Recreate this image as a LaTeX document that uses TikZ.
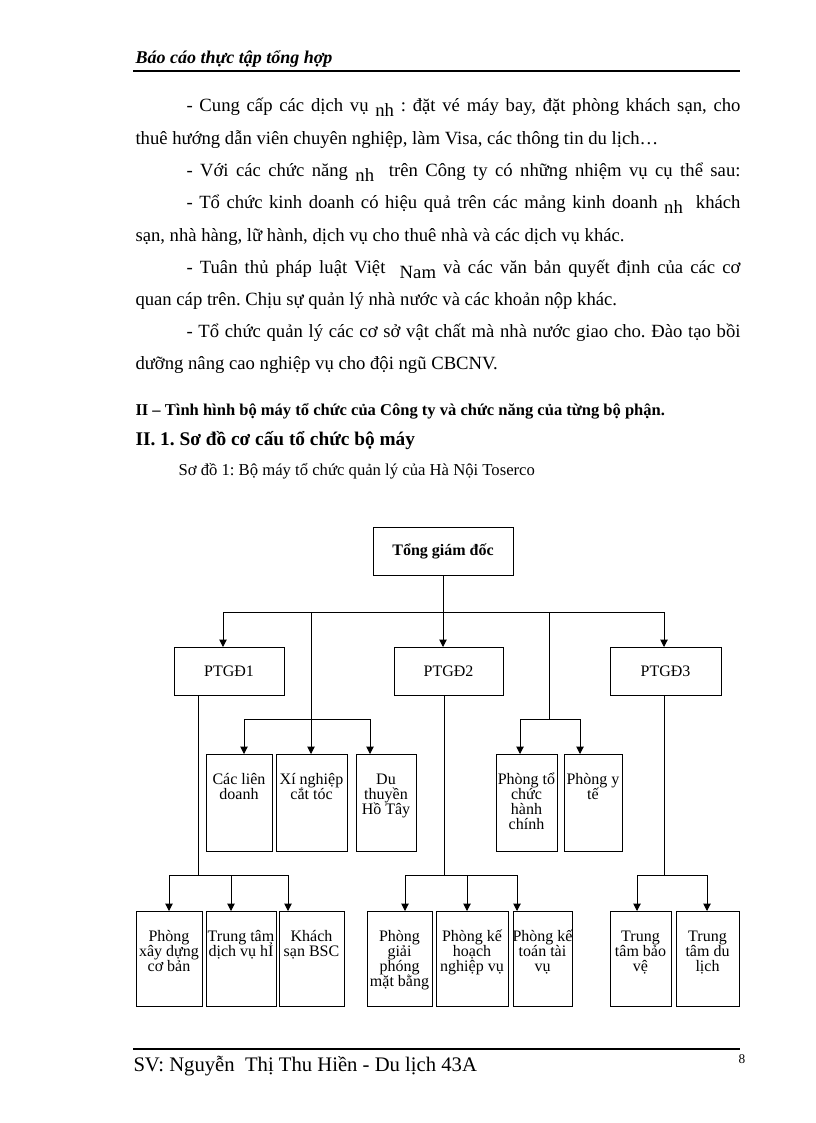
\documentclass[tikz,border=0pt]{standalone}
\usepackage{fontspec}
\setmainfont{Liberation Serif}
\usetikzlibrary{arrows.meta}
\frenchspacing
\newdimen\pxu \pxu=0.75pt
\newcommand\lwr[1]{\raisebox{-3.5pt}{#1}}
\newcommand\bl[1]{\makebox[\linewidth]{#1}}
\newcommand\bxt[3]{\parbox[c][#2\pxu][t]{#1\pxu}{\fontsize{12}{11.25}\selectfont\lineskiplimit=-100pt\centering\rule{0pt}{22.5pt}#3}}
\newcommand\bxc[3]{\parbox[c][#2\pxu][c]{#1\pxu}{\centering #3}}
\tikzset{
  box/.style={draw, line width=0.75pt, inner sep=0pt, outer sep=0pt},
  txt/.style={inner sep=0pt, anchor=base west},
  body/.style={txt, font=\fontsize{14}{16}\selectfont},
  arr/.style={-{Triangle[width=5.5pt,length=5.5pt]}},
}
\begin{document}
\begin{tikzpicture}[x=0.75pt,y=-0.75pt,line width=0.75pt]
\useasboundingbox (0,0) rectangle (816,1123);
\fill[white] (0,0) rectangle (816,1123);
% header
\node[txt,font=\fontsize{13.5}{15}\selectfont\bfseries\itshape] (hd) at (135,64) {Báo cáo thực tập tổng hợp};
\coordinate (hl) at (133,71); \coordinate (hr) at (740,71);
\draw[line width=1.5pt] (hl) -- (hr);
% body
\node[body] (l1) at (186,112) {\hbox to 415.5pt{- Cung cấp các dịch vụ \lwr{nh}\ : đặt vé máy bay, đặt phòng khách sạn, cho}};
\node[body] (l2) at (135,144.5) {thuê hướng dẫn viên chuyên nghiệp, làm Visa, các thông tin du lịch…};
\node[body] (l3) at (186,176.5) {\hbox to 415.5pt{- Với các chức năng \lwr{nh}\ \ trên Công ty có những nhiệm vụ cụ thể sau:}};
\node[body] (l4) at (186,209) {\hbox to 415.5pt{- Tổ chức kinh doanh có hiệu quả trên các mảng kinh doanh \lwr{nh}\ \ khách}};
\node[body] (l5) at (135,241) {sạn, nhà hàng, lữ hành, dịch vụ cho thuê nhà và các dịch vụ khác.};
\node[body] (l6) at (186,273.5) {\hbox to 415.5pt{- Tuân thủ pháp luật Việt\ \ \lwr{Nam} và các văn bản quyết định của các cơ}};
\node[body] (l7) at (135,305.5) {quan cáp trên. Chịu sự quản lý nhà nước và các khoản nộp khác.};
\node[body] (l8) at (186,337.5) {\hbox to 415.5pt{- Tổ chức quản lý các cơ sở vật chất mà nhà nước giao cho. Đào tạo bồi}};
\node[body] (l9) at (135,369.5) {dưỡng nâng cao nghiệp vụ cho đội ngũ CBCNV.};
% section titles
\node[txt,font=\fontsize{12.4}{14}\selectfont\bfseries] (s1) at (135,415) {II – Tình hình bộ máy tổ chức của Công ty và chức năng của từng bộ phận.};
\node[txt,font=\fontsize{14.5}{16}\selectfont\bfseries] (s2) at (135,445) {II. 1. Sơ đồ cơ cấu tổ chức bộ máy};
\node[txt,font=\fontsize{12.5}{14}\selectfont] (cap) at (178,475) {Sơ đồ 1: Bộ máy tổ chức quản lý của Hà Nội Toserco};
% diagram boxes
\node[box] (T) at (443,551) {\bxc{140}{48}{\fontsize{12}{14}\selectfont\bfseries Tổng giám đốc}};
\node[box] (P1) at (229,671) {\bxc{110}{48}{\fontsize{12}{14}\selectfont PTGĐ1}};
\node[box] (P2) at (448.5,671) {\bxc{109}{48}{\fontsize{12}{14}\selectfont PTGĐ2}};
\node[box] (P3) at (665.5,671) {\bxc{111}{48}{\fontsize{12}{14}\selectfont PTGĐ3}};
\node[box] (L1) at (239,802.5) {\bxt{66}{97}{\bl{Các liên}\\\bl{doanh}}};
\node[box] (L2) at (311.5,802.5) {\bxt{71}{97}{\bl{Xí nghiệp}\\\bl{cắt tóc}}};
\node[box] (L3) at (386,802.5) {\bxt{60}{97}{\bl{Du}\\\bl{thuyền}\\\bl{Hồ Tây}}};
\node[box] (M1) at (526.5,802.5) {\bxt{61}{97}{\bl{Phòng tổ}\\\bl{chức}\\\bl{hành}\\\bl{chính}}};
\node[box] (M2) at (593,802.5) {\bxt{58}{97}{\bl{Phòng y}\\\bl{tế}}};
\node[box] (B1) at (169,958.5) {\bxt{66}{95}{\bl{Phòng}\\\bl{xây dựng}\\\bl{cơ bản}}};
\node[box] (B2) at (241,958.5) {\bxt{70}{95}{\bl{Trung tâm}\\\bl{dịch vụ hỈ}}};
\node[box] (B3) at (311.5,958.5) {\bxt{65}{95}{\bl{Khách}\\\bl{sạn BSC}}};
\node[box] (B4) at (399.5,958.5) {\bxt{65}{95}{\bl{Phòng}\\\bl{giải}\\\bl{phóng}\\\bl{mặt bằng}}};
\node[box] (B5) at (472,958.5) {\bxt{72}{95}{\bl{Phòng kế}\\\bl{hoạch}\\\bl{nghiệp vụ}}};
\node[box] (B6) at (542.5,958.5) {\bxt{59}{95}{\bl{Phòng kế}\\\bl{toán tài}\\\bl{vụ}}};
\node[box] (B7) at (640.5,958.5) {\bxt{61}{95}{\bl{Trung}\\\bl{tâm bảo}\\\bl{vệ}}};
\node[box] (B8) at (707.5,958.5) {\bxt{63}{95}{\bl{Trung}\\\bl{tâm du}\\\bl{lịch}}};
% connectors level 1
\coordinate (jL) at (223,612); \coordinate (jR) at (664,612);
\coordinate (jA) at (311,612); \coordinate (jB) at (549,612);
\draw[arr] (T.south) -- (T.south |- P2.north);
\draw (jL) -- (jR);
\draw[arr] (jL) -- (jL |- P1.north);
\draw[arr] (jR) -- (jR |- P3.north);
% middle groups
\coordinate (a1) at (244,719); \coordinate (a3) at (370,719);
\draw[arr] (jA) -- (jA |- L2.north);
\draw (a1) -- (a3);
\draw[arr] (a1) -- (a1 |- L1.north);
\draw[arr] (a3) -- (a3 |- L3.north);
\coordinate (bm) at (549,719); \coordinate (b1) at (520,719); \coordinate (b2) at (580,719);
\draw (jB) -- (bm);
\draw (b1) -- (b2);
\draw[arr] (b1) -- (b1 |- M1.north);
\draw[arr] (b2) -- (b2 |- M2.north);
% bottom groups
\coordinate (c0) at (198,875); \coordinate (c1) at (169,875); \coordinate (c2) at (231,875); \coordinate (c3) at (288,875);
\draw (c0 |- P1.south) -- (c0);
\draw (c1) -- (c3);
\draw[arr] (c1) -- (c1 |- B1.north);
\draw[arr] (c2) -- (c2 |- B2.north);
\draw[arr] (c3) -- (c3 |- B3.north);
\coordinate (d0) at (444,875); \coordinate (d1) at (405,875); \coordinate (d2) at (467,875); \coordinate (d3) at (517,875);
\draw (d0 |- P2.south) -- (d0);
\draw (d1) -- (d3);
\draw[arr] (d1) -- (d1 |- B4.north);
\draw[arr] (d2) -- (d2 |- B5.north);
\draw[arr] (d3) -- (d3 |- B6.north);
\coordinate (e0) at (664,875); \coordinate (e1) at (637,875); \coordinate (e2) at (707,875);
\draw (e0 |- P3.south) -- (e0);
\draw (e1) -- (e2);
\draw[arr] (e1) -- (e1 |- B7.north);
\draw[arr] (e2) -- (e2 |- B8.north);
% footer
\coordinate (fl) at (133,1049); \coordinate (fr) at (740,1049);
\draw[line width=1.2pt] (fl) -- (fr);
\node[txt,font=\fontsize{15.5}{17}\selectfont] (ft) at (133,1071) {SV: Nguyễn\ \ Thị Thu Hiền - Du lịch 43A};
\node[txt,font=\fontsize{10}{12}\selectfont] (pg) at (738,1063) {8};
\end{tikzpicture}
\end{document}
